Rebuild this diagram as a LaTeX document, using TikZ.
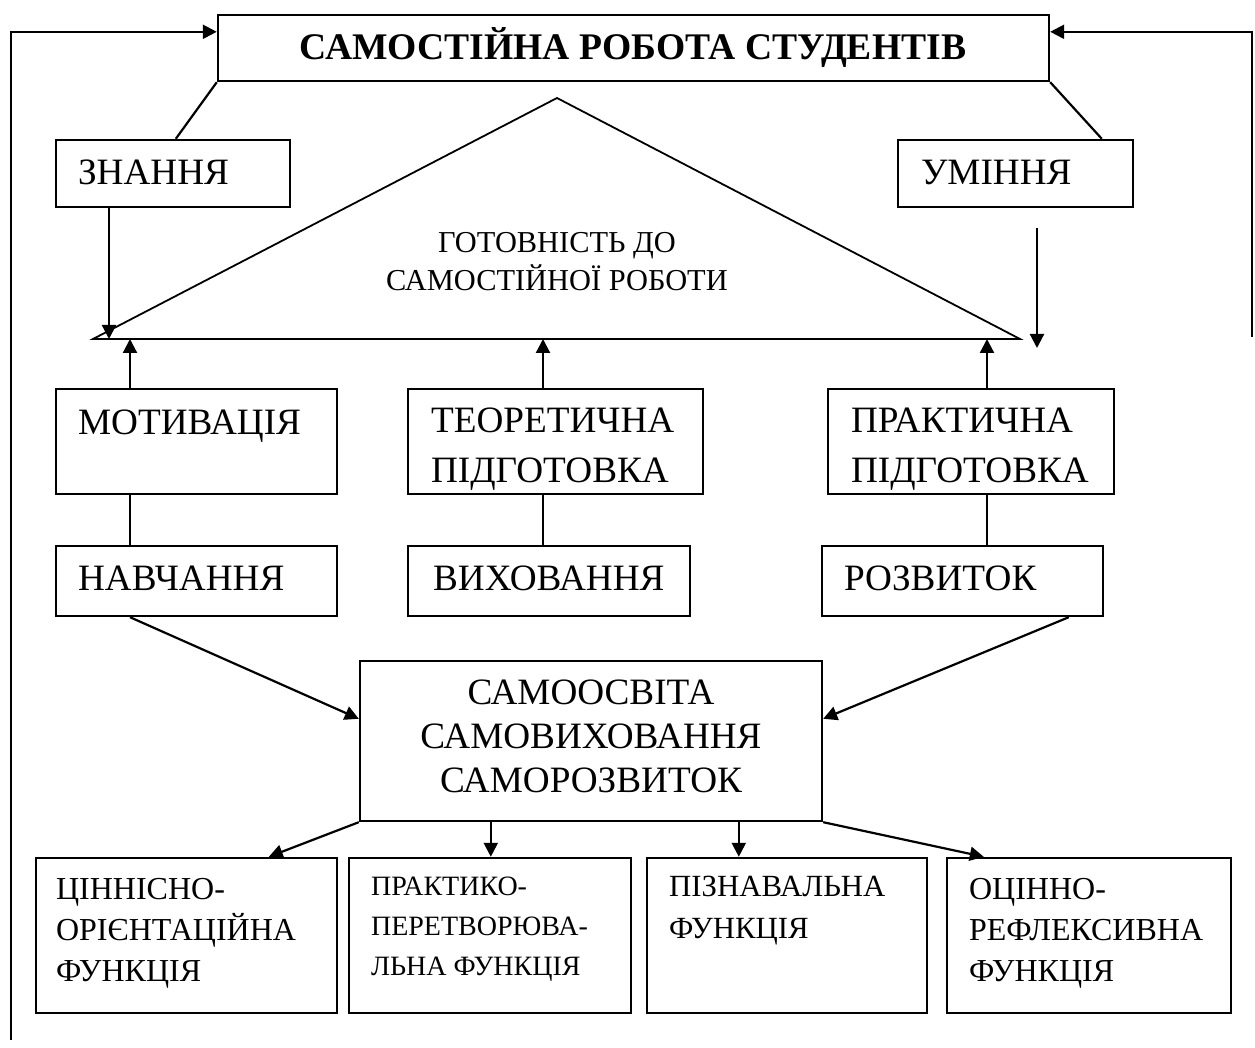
\documentclass[tikz,border=0pt]{standalone}
\usepackage{fontspec}
\setmainfont{Liberation Serif}
\usetikzlibrary{calc,fit,arrows.meta}

\tikzset{
	box/.style={draw, line width=1.2pt, inner sep=0pt},
	txt/.style={inner sep=0pt, anchor=base west, align=left, font=\fontsize{18.6}{25}\selectfont},
	fn/.style={inner sep=0pt, anchor=base west, align=left, font=\fontsize{16}{20.5}\selectfont},
}

\begin{document}
\begin{tikzpicture}[x=0.5pt,y=-0.5pt,line width=1.1pt,>={Triangle[length=7pt,width=7pt]}]
		\useasboundingbox (0,0) rectangle (1255,1048);
		% title
		\node[box, fit={(218,15) (1049,81)}] (top) {};
		\node[inner sep=0pt, anchor=base, font=\fontsize{18.8}{22}\selectfont\bfseries] (ttl) at (633,60) {САМОСТІЙНА РОБОТА СТУДЕНТІВ};
		% knowledge and skills
		\node[box, fit={(56,140) (290,207)}] (zn) {};
		\node[txt] (znt) at (77,185) {ЗНАННЯ};
		\node[box, fit={(898,140) (1133,207)}] (um) {};
		\node[txt] (umt) at (920,185) {УМІННЯ};
		\draw (top.south west) -- ($(zn.north west)+(121,0)$);
		\draw (top.south east) -- ($(um.north west)+(205,0)$);
		% readiness
		\coordinate (tl) at (93,339);
		\coordinate (tp) at (557,98);
		\coordinate (tr) at (1020,339);
		\draw[line width=0.9pt] (tl) -- (tp) -- (tr) -- cycle;
		\node[inner sep=0pt, align=center, font=\fontsize{15.2}{19}\selectfont] (gt) at (557,262) {ГОТОВНІСТЬ ДО\\САМОСТІЙНОЇ РОБОТИ};
		\coordinate (b1) at (109,339);
		\coordinate (b2) at (130,339);
		\coordinate (b3) at (543,339);
		\coordinate (b4) at (987,339);
		\coordinate (u1) at (1037,228);
		\coordinate (u2) at (1037,348);
		\draw[->] (b1 |- zn.south) -- (b1);
		\draw[->] (u1) -- (u2);
		% middle row
		\node[box, fit={(56,389) (337,494)}] (mt) {};
		\node[txt] (mtt) at (77,435) {МОТИВАЦІЯ};
		\node[box, fit={(408,389) (703,494)}] (tp1) {};
		\node[txt] (tpt) at (430,483) {ТЕОРЕТИЧНА\\ПІДГОТОВКА};
		\node[box, fit={(828,389) (1114,494)}] (pp) {};
		\node[txt] (ppt) at (850,483) {ПРАКТИЧНА\\ПІДГОТОВКА};
		\draw[->] (b2 |- mt.north) -- (b2);
		\draw[->] (b3 |- tp1.north) -- (b3);
		\draw[->] (b4 |- pp.north) -- (b4);
		\node[box, fit={(56,546) (337,616)}] (nv) {};
		\node[txt] (nvt) at (77,590) {НАВЧАННЯ};
		\node[box, fit={(408,546) (690,616)}] (vh) {};
		\node[txt] (vht) at (432,590) {ВИХОВАННЯ};
		\node[box, fit={(822,546) (1103,616)}] (rz) {};
		\node[txt] (rzt) at (843,590) {РОЗВИТОК};
		\draw (b2 |- mt.south) -- (b2 |- nv.north);
		\draw (b3 |- tp1.south) -- (b3 |- vh.north);
		\draw (b4 |- pp.south) -- (b4 |- rz.north);
		% self-education
		\node[box, fit={(360,661) (822,821)}] (so) {};
		\node[inner sep=0pt, anchor=base, align=center, font=\fontsize{18.6}{22}\selectfont] (sot) at (591,792) {САМООСВІТА\\САМОВИХОВАННЯ\\САМОРОЗВИТОК};
		\draw[->] (b2 |- nv.south) -- ($(so.north west)+(0,59)$);
		\draw[->] ($(rz.south west)+(248,0)$) -- ($(so.north east)+(0,59)$);
		% functions
		\node[box, fit={(36,858) (337,1013)}] (f1) {};
		\node[fn] (f1t) at (55,981) {ЦІННІСНО-\\ОРІЄНТАЦІЙНА\\ФУНКЦІЯ};
		\node[box, fit={(349,858) (631,1013)}] (f2) {};
		\node[fn, font=\fontsize{14}{20}\selectfont] (f2t) at (370,975) {ПРАКТИКО-\\ПЕРЕТВОРЮВА-\\ЛЬНА ФУНКЦІЯ};
		\node[box, fit={(647,858) (927,1013)}] (f3) {};
		\node[fn, font=\fontsize{15.4}{21}\selectfont] (f3t) at (668,938) {ПІЗНАВАЛЬНА\\ФУНКЦІЯ};
		\node[box, fit={(947,858) (1231,1013)}] (f4) {};
		\node[fn] (f4t) at (968,981) {ОЦІННО-\\РЕФЛЕКСИВНА\\ФУНКЦІЯ};
		\coordinate (s2) at ($(so.south west)+(132,0)$);
		\coordinate (s3) at ($(so.south west)+(380,0)$);
		\draw[->] (so.south west) -- ($(f1.north west)+(234,0)$);
		\draw[->] (s2) -- (s2 |- f2.north);
		\draw[->] (s3) -- (s3 |- f3.north);
		\draw[->] (so.south east) -- ($(f4.north west)+(38,0)$);
		% feedback
		\coordinate (lb) at (11,1040);
		\coordinate (rb) at (1252,337);
		\draw[->] (lb) |- ($(top.north west)+(0,18)$);
		\draw[->] (rb) |- ($(top.north east)+(0,18)$);
\end{tikzpicture}
\end{document}
